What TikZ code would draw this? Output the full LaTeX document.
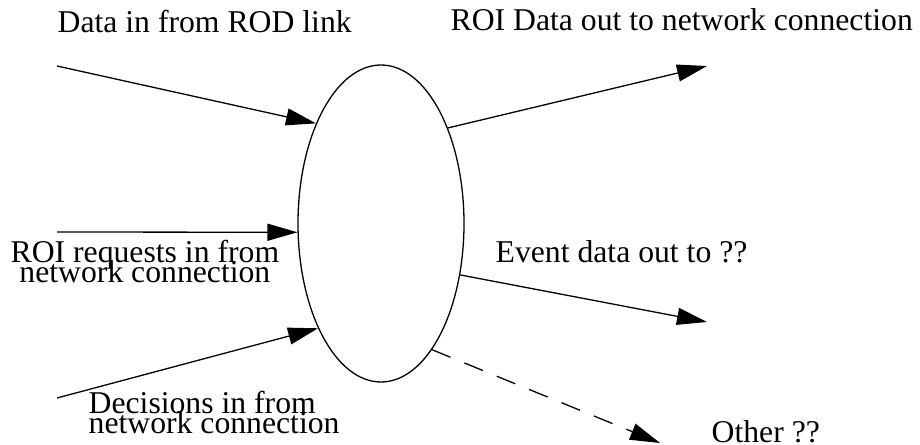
\documentclass[tikz,border=0pt]{standalone}
\usepackage{fontspec}
\setmainfont{Liberation Serif}
\usetikzlibrary{arrows.meta,shapes.geometric}
% labels sit tight, lines may overlap
\newcommand\lblfont{\fontsize{31.7pt}{20pt}\selectfont\lineskiplimit=-100pt}
\begin{document}
\begin{tikzpicture}[x=1pt, y=-1pt, line width=1.3pt, >={Triangle[length=30pt,width=17pt]},
    lbl/.style={font=\lblfont, anchor=base west, inner sep=0pt}]
    \useasboundingbox (0,0) rectangle (920,444);
    \node[draw, ellipse, minimum width=166pt, minimum height=317pt, inner sep=0pt] (blob) at (381,223.5) {};
    % loose ends of the arrows
    \coordinate (rod) at (57,66);
    \coordinate (req) at (57,232);
    \coordinate (dec) at (57,398);
    \coordinate (roiout) at (707,66);
    \coordinate (evtout) at (707,322);
    \coordinate (other) at (660,443);
    % inputs
    \draw[->] (rod) -- (blob.123);
    \draw[->] (req) -- (blob.186);
    \draw[->] (dec) -- (blob.239);
    % outputs
    \draw[->] (blob.55) -- (roiout);
    \draw[->] (blob.-33) -- (evtout);
    \draw[->, dash pattern=on 20pt off 15pt] (blob.-68) -- (other);
    % labels (two-line ones hang on their last line)
    \node[lbl] (rodlbl) at (57,33) {Data in from ROD link};
    \node[lbl] (roilbl) at (450,31) {ROI Data out to network connection};
    \node[lbl, align=center] (reqlbl) at (10,282) {ROI requests in from\\network connection};
    \node[lbl, align=left] (declbl) at (88,433) {Decisions in from\\network connection};
    \node[lbl] (evtlbl) at (495,262) {Event data out to ??};
    \node[lbl] (othlbl) at (711,442) {Other ??};
\end{tikzpicture}
\end{document}
